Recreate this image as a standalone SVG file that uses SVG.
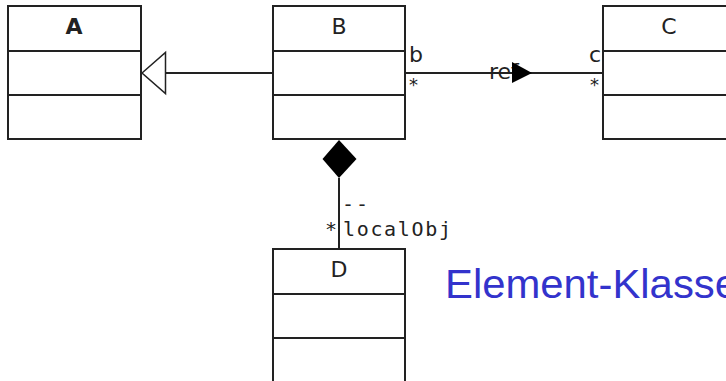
<svg xmlns="http://www.w3.org/2000/svg" width="726" height="381" viewBox="0 0 726 381">
<style>
.box{fill:#fff;stroke:#222;stroke-width:2}
.div{stroke:#222;stroke-width:2}
.cls{font-family:"DejaVu Sans",sans-serif;font-size:22px;fill:#222;text-anchor:middle}
.role{font-family:"DejaVu Sans",sans-serif;font-size:22px;fill:#222}
.star{font-family:"DejaVu Sans",sans-serif;font-size:18px;fill:#222}
.mono{font-family:"DejaVu Sans Mono",monospace;font-size:20px;fill:#222}
.ln{stroke:#222;stroke-width:2;fill:none}
</style>
<rect width="726" height="381" fill="#fff"/>
<g id="connectors">
  <line class="ln" x1="165.5" y1="73" x2="273" y2="73"/>
  <polygon points="142,73 165.5,52.5 165.5,93.5" fill="#fff" stroke="#222" stroke-width="1.5"/>
  <line class="ln" x1="405" y1="73" x2="603" y2="73"/>
  <text class="role" x="489" y="79" font-size="24">ref</text>
  <polygon points="512,62 532,73 512,83" fill="#000"/>
  <text class="role" x="409" y="62">b</text>
  <text class="star" x="409" y="91">*</text>
  <text class="role" x="589" y="62">c</text>
  <text class="star" x="590" y="91">*</text>
  <line class="ln" x1="339" y1="178" x2="339" y2="249"/>
  <polygon points="339,140 356.5,159 339,178 322.5,159" fill="#000"/>
  <text class="mono" x="342" y="211" textLength="26" lengthAdjust="spacing">--</text>
  <text class="mono" x="325" y="236">*</text>
  <text class="mono" x="343" y="236" textLength="108" lengthAdjust="spacing">localObj</text>
</g>
<g id="A">
  <rect class="box" x="8" y="6" width="133" height="133"/>
  <line class="div" x1="8" y1="51" x2="141" y2="51"/>
  <line class="div" x1="8" y1="95" x2="141" y2="95"/>
  <text class="cls" x="74" y="34" font-weight="bold">A</text>
</g>
<g id="B">
  <rect class="box" x="273" y="6" width="132" height="133"/>
  <line class="div" x1="273" y1="51" x2="405" y2="51"/>
  <line class="div" x1="273" y1="95" x2="405" y2="95"/>
  <text class="cls" x="339" y="34">B</text>
</g>
<g id="C">
  <rect class="box" x="603" y="6" width="132" height="133"/>
  <line class="div" x1="603" y1="51" x2="735" y2="51"/>
  <line class="div" x1="603" y1="95" x2="735" y2="95"/>
  <text class="cls" x="669" y="34">C</text>
</g>
<g id="D">
  <rect class="box" x="273" y="249" width="132" height="133"/>
  <line class="div" x1="273" y1="294" x2="405" y2="294"/>
  <line class="div" x1="273" y1="338" x2="405" y2="338"/>
  <text class="cls" x="339" y="277">D</text>
</g>
<text x="445" y="298" font-family="'Liberation Sans',Arial,sans-serif" font-size="40" fill="#3333CC" textLength="293" lengthAdjust="spacingAndGlyphs">Element-Klasse</text>
</svg>
